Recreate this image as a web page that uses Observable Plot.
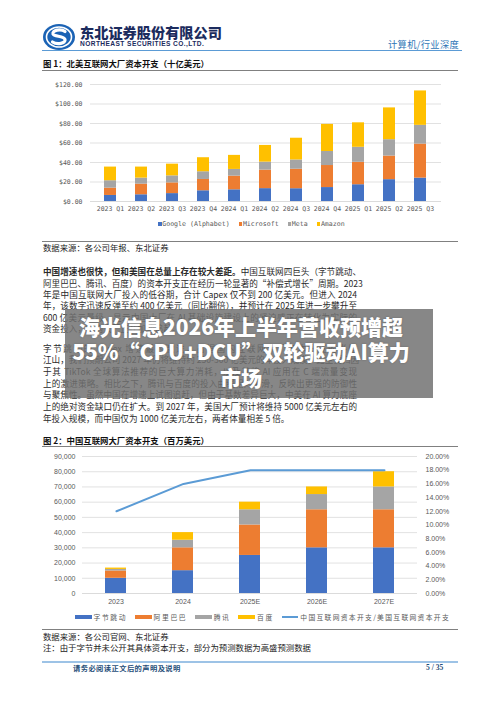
<!DOCTYPE html>
<html><head><meta charset="utf-8">
<script src="https://cdn.jsdelivr.net/npm/d3@7"></script>
<script src="https://cdn.jsdelivr.net/npm/@observablehq/plot@0.6"></script>
<style>
html,body{margin:0;padding:0;background:#fff;}
#page{position:relative;width:500px;height:707px;overflow:hidden;background:#fff;font-family:"Noto Sans CJK SC","Noto Sans",sans-serif;color:#222;}
.abs{position:absolute;white-space:nowrap;line-height:1;}
.hr{position:absolute;}
.line{position:absolute;left:43px;width:314px;font-size:8.6px;line-height:11.4px;height:11.4px;color:#2a2a2a;white-space:nowrap;overflow:visible;}
.just{text-align:justify;text-align-last:justify;}
.leg{position:absolute;font-size:6.6px;color:#595959;white-space:nowrap;line-height:1;display:flex;align-items:center;}
.sw{display:inline-block;}
</style></head>
<body><div id="page"></div>
<script>
// ---------- data ----------
const quarters = ["2023 Q1","2023 Q2","2023 Q3","2023 Q4","2024 Q1","2024 Q2","2024 Q3","2024 Q4","2025 Q1","2025 Q2","2025 Q3"];
const usCompanies = ["Google (Alphabet)","Microsoft","Meta","Amazon"];
const google    = [6.2, 6.9, 8.1, 11.0, 12.0, 13.2, 13.1, 14.3, 17.2, 22.4, 24.0];
const microsoft = [7.5, 10.9, 11.0, 11.6, 14.0, 19.0, 20.0, 22.6, 23.0, 24.2, 34.9];
const meta      = [7.6, 6.2, 7.2, 7.9, 6.9, 8.2, 9.5, 14.4, 15.4, 16.8, 19.2];
const amazon    = [14.0, 11.3, 12.0, 14.4, 14.4, 17.1, 22.3, 27.8, 25.1, 32.6, 35.3];
const usTicks = [0,20,40,60,80,100,120];

const years = ["2023","2024","2025E","2026E","2027E"];
const cnCompanies = ["字节跳动","阿里巴巴","腾讯","百度"];
const bytedance = [10000, 15000, 25000, 30000, 30000];
const alibaba   = [4800, 15000, 20000, 25000, 25000];
const tencent   = [1000, 5000, 10000, 10000, 15000];
const baidu     = [900, 5000, 5000, 5000, 10000];
const ratio     = [12, 16, 18, 18, 18];
const ratioName = "中国互联网资本开支/美国互联网资本开支";
const cnTicks = [0,10000,20000,30000,40000,50000,60000,70000,80000,90000];
const pctTicks = [0,2,4,6,8,10,12,14,16,18,20];

const colors = ["#4472c4","#ed7d31","#a5a5a5","#ffc000"];
const lineColor = "#5b9bd5";

// ---------- helpers ----------
const page = document.getElementById("page");
function txt(s, css){const d=document.createElement("div");d.className="abs";d.textContent=s;Object.assign(d.style,css);page.appendChild(d);return d;}
function html(h, css, cls){const d=document.createElement("div");d.className=cls||"abs";d.innerHTML=h;Object.assign(d.style,css);page.appendChild(d);return d;}
function hr(x1,x2,y,h,c){const d=document.createElement("div");d.className="hr";Object.assign(d.style,{left:x1+"px",width:(x2-x1)+"px",top:(y-h/2)+"px",height:h+"px",background:c});page.appendChild(d);}

// ---------- header ----------
html(`<svg width="34" height="28" viewBox="0 0 34 28">
<ellipse cx="17" cy="14" rx="16" ry="13" fill="#1b63b5"/>
<ellipse cx="17" cy="14" rx="12.5" ry="10" fill="none" stroke="#fff" stroke-width="1.6"/>
<path d="M23 8.5 C19 5.5 10 7 11 11 C12 14 22 12.5 23 16.5 C24 20.5 15 22 10.5 19" fill="none" stroke="#fff" stroke-width="3.2" stroke-linecap="round"/>
</svg>`,{left:"42px",top:"23px"});
txt("东北证券股份有限公司",{left:"80px",top:"24.5px",fontSize:"14.2px",fontWeight:"900",color:"#1c2c5e",letterSpacing:"0px"});
txt("NORTHEAST SECURITIES CO.,LTD.",{left:"80px",top:"40.8px",fontSize:"6.6px",fontWeight:"700",color:"#1c2c5e",fontFamily:"'Liberation Sans',sans-serif",letterSpacing:"0.42px"});
txt("计算机/行业深度",{left:"388px",top:"39.5px",fontSize:"9.3px",color:"#2e75b6",letterSpacing:"0.3px"});
hr(42,462,50.5,1.2,"#5b9bd5");

// ---------- figure 1 ----------
txt("图 1：北美互联网大厂资本开支（十亿美元）",{left:"43px",top:"59.3px",fontSize:"8.4px",fontWeight:"700",color:"#111"});
hr(42,458,70.3,1.6,"#808080");

const usData = [];
quarters.forEach((q,i)=>{
  [google,microsoft,meta,amazon].forEach((arr,k)=>usData.push({q, company:usCompanies[k], v:arr[i]}));
});
const mono = "'DejaVu Sans Mono','Liberation Mono',monospace";
const chart1 = Plot.plot({
  width:420, height:140,
  marginLeft:60, marginRight:9, marginTop:6, marginBottom:17,
  style:{fontSize:"6.5px", fontFamily:mono, color:"#595959", background:"transparent", overflow:"visible"},
  x:{domain:quarters, paddingInner:0.6, paddingOuter:0.3, label:null},
  y:{domain:[0,120], label:null},
  color:{domain:usCompanies, range:colors},
  marks:[
    Plot.gridY(usTicks,{stroke:"#d9d9d9", strokeOpacity:1, strokeWidth:0.8}),
    Plot.barY(usData, Plot.stackY({x:"q", y:"v", fill:"company"})),
    Plot.ruleY([0],{stroke:"#d9d9d9", strokeWidth:0.8}),
    Plot.axisY(usTicks,{tickSize:0, tickPadding:8, tickFormat:d=>"$"+d.toFixed(2), label:null, fill:"#595959"}),
    Plot.axisX({tickSize:0, tickPadding:5, label:null, fill:"#595959"})
  ]
});
chart1.style.position="absolute"; chart1.style.left="30px"; chart1.style.top="78px";
page.appendChild(chart1);

const leg1 = html(usCompanies.map((c,i)=>`<span style="display:inline-flex;align-items:center;margin-right:${i<3?9:0}px"><span class="sw" style="width:3.6px;height:3.6px;background:${colors[i]};margin-right:0.6px"></span>${c}</span>`).join(""),
  {left:"158px",top:"220.5px",fontFamily:mono},"leg");

hr(42,458,241.5,1,"#808080");
txt("数据来源：各公司年报、东北证券",{left:"43px",top:"242.8px",fontSize:"8.4px",color:"#222"});

// ---------- body text ----------
const p1 = [
  ["<b>中国增速也很快，但和美国在总量上存在较大差距。</b>中国互联网四巨头（字节跳动、",true],
  ["阿里巴巴、腾讯、百度）的资本开支正在经历一轮显著的“补偿式增长”周期。2023",true],
  ["年是中国互联网大厂投入的低谷期，合计 Capex 仅不到 200 亿美元。但进入 2024",true],
  ["年，该数字迅速反弹至约 400 亿美元（同比翻倍），并预计在 2025 年进一步攀升至",true],
  ["600 亿美元量级，显示中国大厂在 AI 基础设施建设上的紧迫感正在转化为实际的",true],
  ["资金投入，国内大厂正在加速追赶。",false]
];
const p2 = [
  ["字节跳动的 Capex 增速最为激进，占据国内互联网大厂资本开支的半壁",true],
  ["江山，我们预期公司 2027 年仍将维持约 250-300 亿美元的年投入规模。这主要归因",true],
  ["于其 TikTok 全球算法推荐的巨大算力消耗，以及其将 AI 应用在 C 端流量变现",true],
  ["上的激进策略。相比之下，腾讯与百度的投入曲线相对平滑，反映出更强的防御性",true],
  ["与聚焦性。虽然中国在增速上试图追赶，但由于基数差异巨大，中美在 AI 算力底座",true],
  ["上的绝对资金缺口仍在扩大。到 2027 年，美国大厂预计将维持 5000 亿美元左右的",true],
  ["年投入规模，而中国仅为 1000 亿美元左右，两者体量相差 5 倍。",false]
];
p1.forEach((l,i)=>html(l[0],{top:(266.3+i*11.3)+"px"},"line"+(l[1]?" just":"")));
p2.forEach((l,i)=>html(l[0],{top:(342.6+i*11.65)+"px"},"line"+(l[1]?" just":"")));

// ---------- figure 2 ----------
txt("图 2：中国互联网大厂资本开支（百万美元）",{left:"43px",top:"435.8px",fontSize:"8.4px",fontWeight:"700",color:"#111"});
hr(42,458,446.3,1.6,"#808080");

const cnData = [];
years.forEach((y,i)=>{
  [bytedance,alibaba,tencent,baidu].forEach((arr,k)=>cnData.push({year:y, company:cnCompanies[k], v:arr[i]}));
});
const lineData = years.map((y,i)=>({year:y, pct:ratio[i]}));
const sans = "'Liberation Sans','Noto Sans CJK SC',sans-serif";
const common = {width:440, height:165, marginLeft:52, marginRight:53, marginTop:8, marginBottom:20};
const chart2 = Plot.plot({
  ...common,
  style:{fontSize:"7px", fontFamily:sans, color:"#595959", background:"transparent", overflow:"visible"},
  x:{domain:years, paddingInner:0.69, paddingOuter:0.345, label:null},
  y:{domain:[0,90000], label:null},
  color:{domain:cnCompanies, range:colors},
  marks:[
    Plot.gridY(cnTicks,{stroke:"#d9d9d9", strokeOpacity:1, strokeWidth:0.8}),
    Plot.barY(cnData, Plot.stackY({x:"year", y:"v", fill:"company"})),
    Plot.ruleY([0],{stroke:"#d9d9d9", strokeWidth:0.8}),
    Plot.axisY(cnTicks,{tickSize:0, tickPadding:7, tickFormat:d3.format(","), label:null, fill:"#595959"}),
    Plot.axisX({tickSize:0, tickPadding:5.5, label:null, fill:"#595959"})
  ]
});
chart2.style.position="absolute"; chart2.style.left="30px"; chart2.style.top="448px";
page.appendChild(chart2);

const chart2b = Plot.plot({
  ...common,
  style:{fontSize:"7px", fontFamily:sans, color:"#595959", background:"transparent", overflow:"visible"},
  x:{domain:years, paddingInner:0.69, paddingOuter:0.345, axis:null},
  y:{domain:[0,20], label:null},
  marks:[
    Plot.line(lineData,{x:"year", y:"pct", stroke:lineColor, strokeWidth:2}),
    Plot.axisY(pctTicks,{anchor:"right", tickSize:0, tickPadding:8, tickFormat:d=>d.toFixed(2)+"%", label:null, fill:"#595959"})
  ]
});
chart2b.style.position="absolute"; chart2b.style.left="30px"; chart2b.style.top="448px";
page.appendChild(chart2b);

html(cnCompanies.map((c,i)=>`<span style="display:inline-flex;align-items:center;margin-right:8px"><span class="sw" style="width:16.5px;height:4.5px;background:${colors[i]};margin-right:2px"></span><span style="letter-spacing:1.6px">${c}</span></span>`).join("")
  + `<span style="display:inline-flex;align-items:center"><span class="sw" style="width:16.5px;height:2px;background:${lineColor};margin-right:2px"></span><span style="letter-spacing:1.3px">${ratioName}</span></span>`,
  {left:"75px",top:"613.5px",fontSize:"6.8px",fontFamily:"'Noto Sans CJK SC',sans-serif"},"leg");

hr(42,458,629.3,1.4,"#808080");
txt("数据来源：各公司官网、东北证券",{left:"43px",top:"631.8px",fontSize:"8.4px",color:"#222"});
txt("注：由于字节并未公开其具体资本开支，部分为预测数据为高盛预测数据",{left:"43px",top:"642.8px",fontSize:"8.4px",color:"#222"});

// ---------- footer ----------
hr(42,458,662,2,"#9dc3e6");
txt("请务必阅读正文后的声明及说明",{left:"73px",top:"664.5px",fontSize:"7.3px",fontWeight:"700",color:"#1f4e79",letterSpacing:"0.4px"});
txt("5 / 35",{left:"426px",top:"664.3px",fontSize:"7.6px",fontWeight:"700",color:"#1f4e79",fontFamily:"'Liberation Serif',serif"});

// ---------- overlay banner ----------
const band = document.createElement("div");
Object.assign(band.style,{position:"absolute",left:"65px",top:"309px",width:"368px",height:"89px",background:"rgba(112,112,112,0.84)"});
page.appendChild(band);
const bt = document.createElement("div");
bt.innerHTML = "海光信息2026年上半年营收预增超<br>55%“CPU+DCU”双轮驱动AI算力<br>市场";
Object.assign(bt.style,{position:"absolute",left:"65px",top:"313.5px",width:"352px",textAlign:"center",color:"#fff",fontWeight:"900",fontSize:"21px",lineHeight:"25.5px",fontFamily:"'Noto Sans CJK SC',sans-serif",whiteSpace:"nowrap",textShadow:"0 0 2px rgba(0,0,0,0.25)"});
page.appendChild(bt);
</script></body></html>
